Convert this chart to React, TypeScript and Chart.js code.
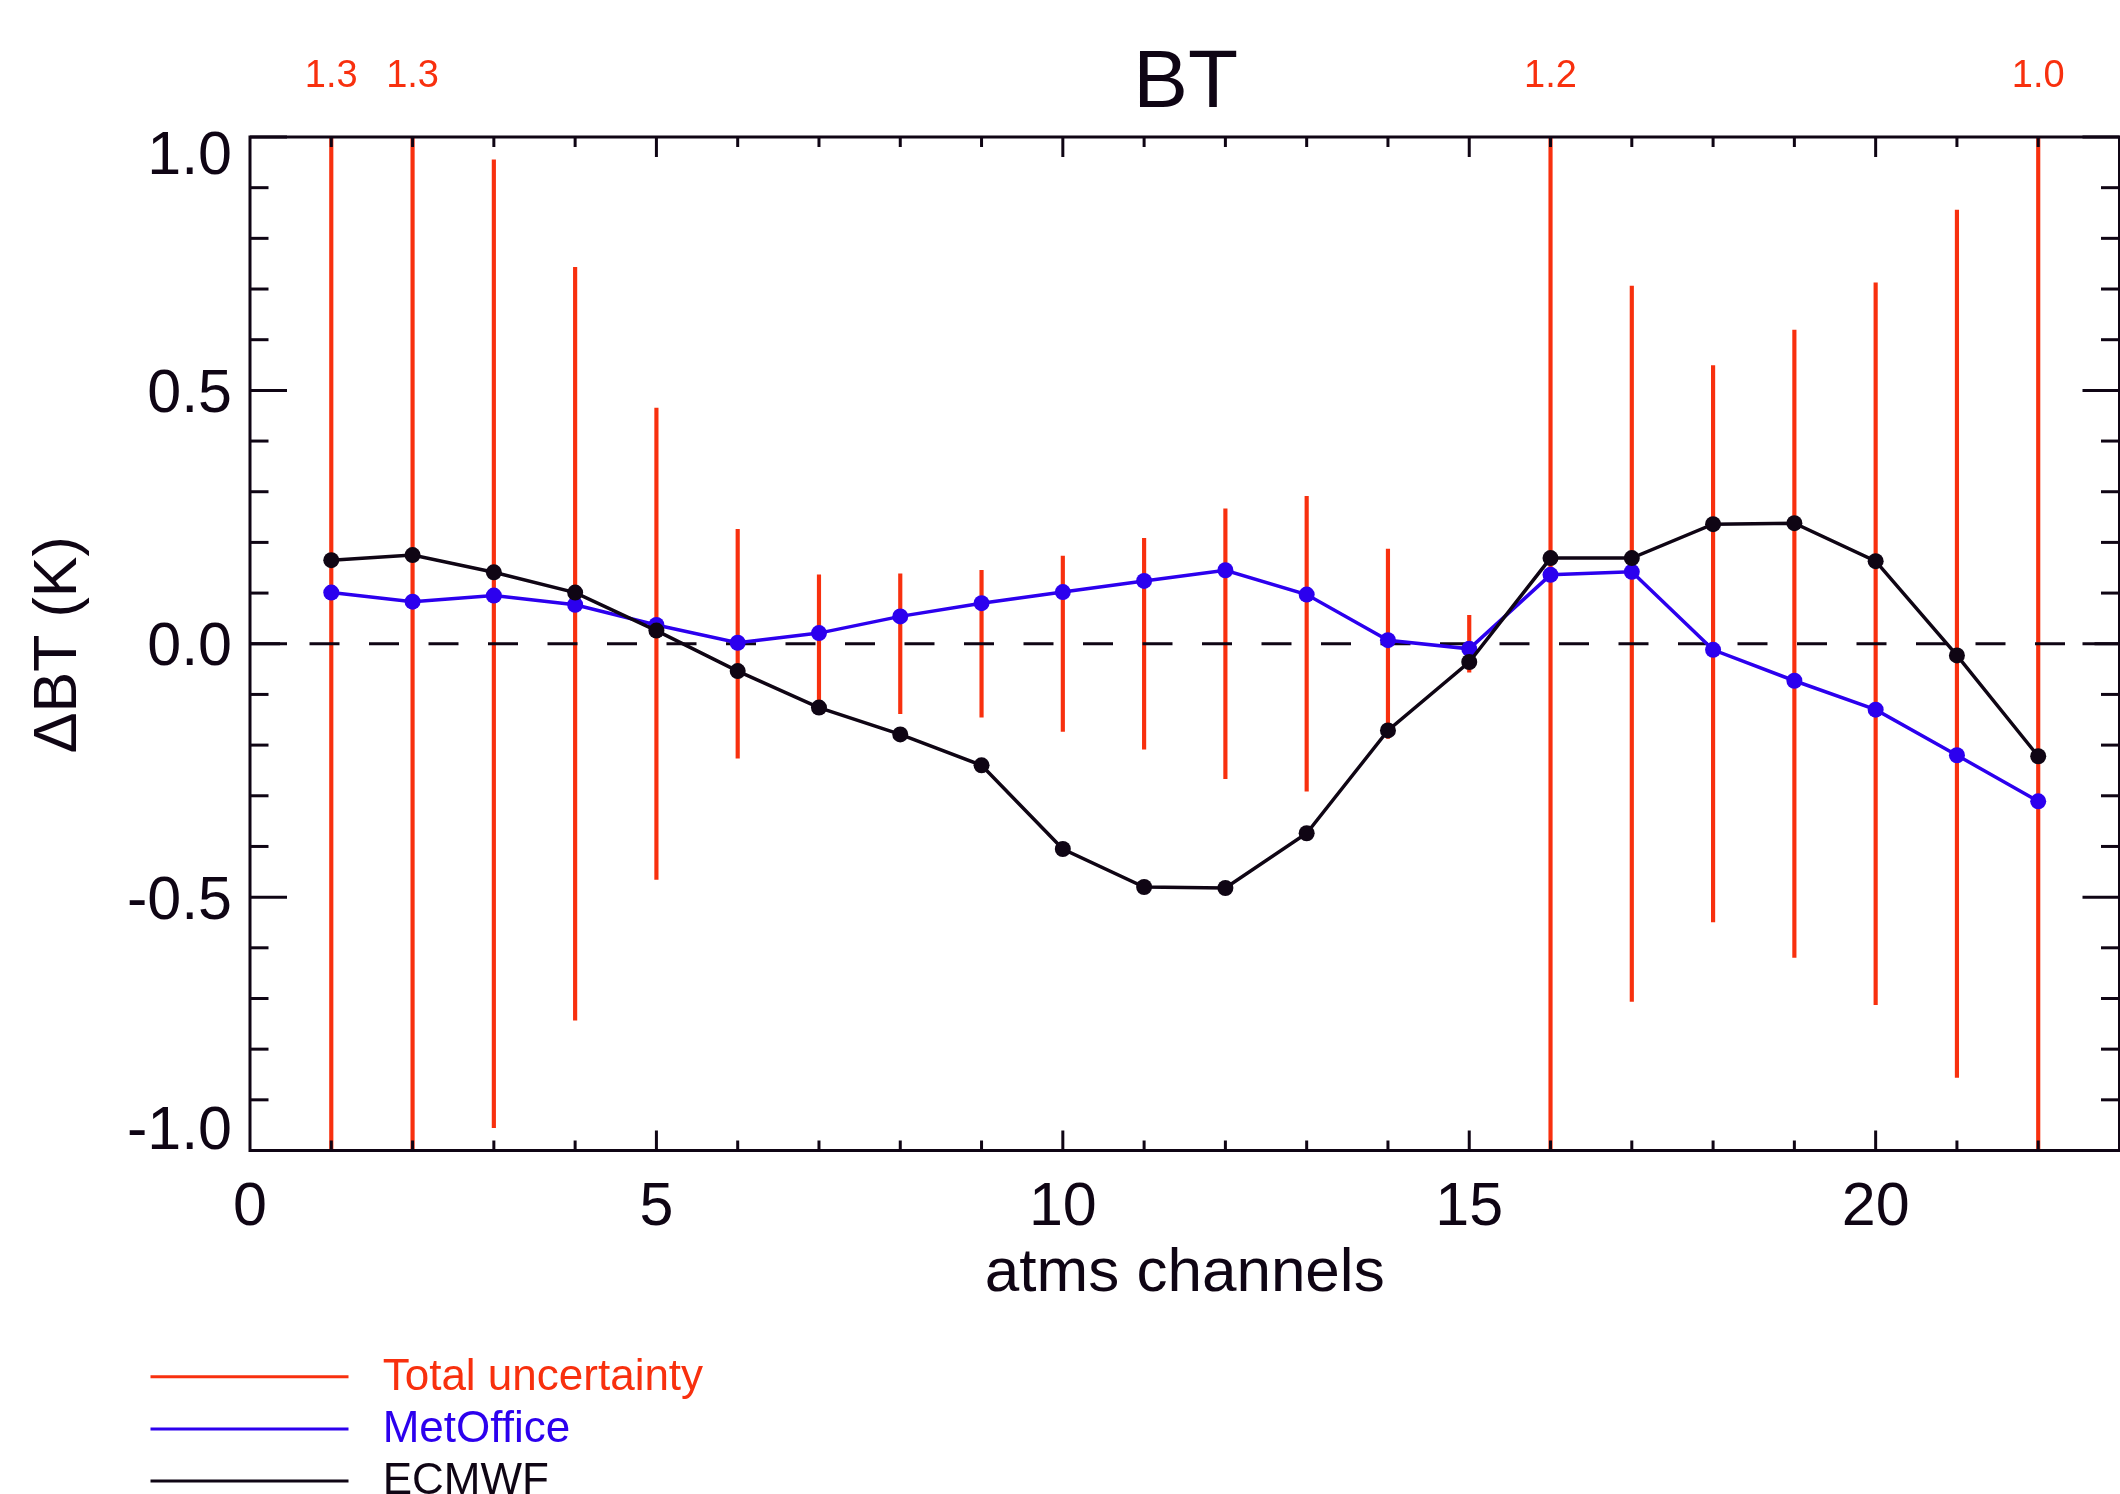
import React, { useEffect, useRef } from "react";
import { Chart, registerables } from "chart.js";

Chart.register(...registerables);

// ---------------- data ----------------
const channels = [1, 2, 3, 4, 5, 6, 7, 8, 9, 10, 11, 12, 13, 14, 15, 16, 17, 18, 19, 20, 21, 22];
const metOffice = [0.101, 0.083, 0.095, 0.077, 0.037, 0.002, 0.021, 0.054, 0.080, 0.102, 0.124, 0.145, 0.097, 0.007, -0.010, 0.136, 0.142, -0.012, -0.073, -0.130, -0.220, -0.311];
const ecmwf = [0.165, 0.175, 0.141, 0.101, 0.026, -0.054, -0.126, -0.179, -0.240, -0.405, -0.480, -0.482, -0.374, -0.171, -0.036, 0.169, 0.169, 0.236, 0.238, 0.163, -0.023, -0.222];
const totalUncertainty = [1.3, 1.3, 0.955, 0.743, 0.465, 0.226, 0.136, 0.138, 0.145, 0.173, 0.208, 0.266, 0.291, 0.187, 0.056, 1.2, 0.706, 0.549, 0.619, 0.712, 0.856, 1.0];
const xTickValues = [0, 5, 10, 15, 20];
const yTickValues = [-1.0, -0.5, 0.0, 0.5, 1.0];
const yTickLabels = ["-1.0", "-0.5", "0.0", "0.5", "1.0"];
const legendLabels = ["Total uncertainty", "MetOffice", "ECMWF"];
const chartTitle = "BT";
const xTitle = "atms channels";
const yTitle = "\u0394BT (K)";

// ---------------- style ----------------
const RED = "#f8300e";
const BLUE = "#2c00ee";
const INK = "#0f0514";
const FONT = "'Liberation Sans', Arial, Helvetica, sans-serif";
const W = 2120;
const H = 1494;

const framePlugin = {
  id: "frame",
  afterDraw(chart: any) {
    const { ctx, chartArea: a, scales } = chart;
    const x = scales.x;
    const y = scales.y;
    ctx.save();
    ctx.strokeStyle = INK;
    ctx.lineWidth = 3;
    ctx.lineCap = "butt";
    ctx.strokeRect(a.left, a.top, a.right - a.left, a.bottom - a.top);

    const seg = (x1: number, y1: number, x2: number, y2: number) => {
      ctx.beginPath();
      ctx.moveTo(x1, y1);
      ctx.lineTo(x2, y2);
      ctx.stroke();
    };
    // x ticks (bottom + top), pointing inward
    for (let v = 1; v <= 22; v++) {
      const px = x.getPixelForValue(v);
      const len = v % 5 === 0 ? 20 : 10;
      seg(px, a.bottom, px, a.bottom - len);
      seg(px, a.top, px, a.top + len);
    }
    // y ticks (left + right), pointing inward
    for (let k = -10; k <= 10; k++) {
      const py = y.getPixelForValue(k / 10);
      const len = k % 5 === 0 ? 37 : 18.5;
      seg(a.left, py, a.left + len, py);
      seg(a.right, py, a.right - len, py);
    }

    // y tick labels
    ctx.fillStyle = INK;
    ctx.font = `61px ${FONT}`;
    ctx.textAlign = "right";
    ctx.textBaseline = "alphabetic";
    yTickValues.forEach((v, i) => {
      let py = y.getPixelForValue(v) + 21.5;
      if (v >= 1) py = a.top + 37;
      if (v <= -1) py = a.bottom - 1.5;
      ctx.fillText(yTickLabels[i], a.left - 18, py);
    });

    // title
    const cx = (a.left + a.right) / 2;
    ctx.textAlign = "center";
    ctx.font = `82px ${FONT}`;
    ctx.fillText(chartTitle, cx + 1, 107);

    // x axis title
    ctx.font = `62px ${FONT}`;
    ctx.fillText(xTitle, cx, 1291);

    // y axis title
    ctx.save();
    ctx.translate(76, (a.top + a.bottom) / 2 + 1);
    ctx.rotate(-Math.PI / 2);
    ctx.textAlign = "center";
    ctx.font = `61px ${FONT}`;
    ctx.fillText(yTitle, 0, 0);
    ctx.restore();

    // red labels for uncertainties beyond the range
    ctx.fillStyle = RED;
    ctx.font = `38px ${FONT}`;
    ctx.textAlign = "center";
    channels.forEach((c, i) => {
      if (totalUncertainty[i] >= 1.0) {
        ctx.fillText(totalUncertainty[i].toFixed(1), x.getPixelForValue(c), 87);
      }
    });

    // legend
    const colors = [RED, BLUE, INK];
    ctx.font = `44px ${FONT}`;
    ctx.textAlign = "left";
    legendLabels.forEach((lab, i) => {
      const base = 1390 + i * 52.2;
      ctx.strokeStyle = colors[i];
      ctx.lineWidth = 3;
      seg(150.5, base - 13.3, 348.5, base - 13.3);
      ctx.fillStyle = colors[i];
      ctx.fillText(lab, 382.7, base);
    });
    ctx.restore();
  },
};

export default function App() {
  const ref = useRef<HTMLCanvasElement | null>(null);

  useEffect(() => {
    document.body.style.margin = "0";
    document.body.style.overflow = "hidden";
    const canvas = ref.current;
    if (!canvas) return;

    const chart = new Chart(canvas, {
      type: "line",
      data: {
        datasets: [
          {
            type: "line",
            label: "ECMWF",
            data: channels.map((c, i) => ({ x: c, y: ecmwf[i] })),
            borderColor: INK,
            backgroundColor: INK,
            borderWidth: 3.5,
            pointRadius: 8,
            pointBorderWidth: 0,
            pointBackgroundColor: INK,
            tension: 0,
            order: 1,
          } as any,
          {
            type: "line",
            label: "MetOffice",
            data: channels.map((c, i) => ({ x: c, y: metOffice[i] })),
            borderColor: BLUE,
            backgroundColor: BLUE,
            borderWidth: 3.5,
            pointRadius: 8,
            pointBorderWidth: 0,
            pointBackgroundColor: BLUE,
            tension: 0,
            order: 2,
          } as any,
          {
            type: "line",
            label: "zero",
            data: [
              { x: 0, y: 0 },
              { x: 23, y: 0 },
            ],
            borderColor: INK,
            borderWidth: 3,
            borderDash: [30, 29.5],
            pointRadius: 0,
            order: 3,
          } as any,
          {
            type: "bar",
            label: "Total uncertainty",
            data: channels.map((c, i) => ({ x: c, y: [-totalUncertainty[i], totalUncertainty[i]] })),
            backgroundColor: RED,
            borderWidth: 0,
            borderSkipped: false,
            barThickness: 3.5,
            grouped: false,
            order: 4,
          } as any,
        ],
      },
      options: {
        animation: false,
        responsive: false,
        devicePixelRatio: 1,
        events: [],
        layout: { padding: { top: 137, right: 0.5, left: 0, bottom: 0 }, autoPadding: false },
        plugins: {
          legend: { display: false },
          title: { display: false },
          tooltip: { enabled: false },
        },
        scales: {
          x: {
            type: "linear",
            position: "bottom",
            min: 0,
            max: 23,
            offset: false,
            grid: { display: false, drawTicks: false, offset: false },
            border: { display: false },
            afterBuildTicks: (s: any) => {
              s.ticks = xTickValues.map((v) => ({ value: v }));
            },
            ticks: {
              autoSkip: false,
              maxRotation: 0,
              minRotation: 0,
              includeBounds: false,
              padding: 27.5,
              color: INK,
              font: { size: 61, family: FONT, lineHeight: 1 },
              callback: (v: any) => String(v),
            },
            afterFit: (s: any) => {
              s.height = H - 1150.5;
            },
          },
          y: {
            type: "linear",
            position: "left",
            min: -1,
            max: 1,
            grid: { display: false, drawTicks: false },
            border: { display: false },
            ticks: { display: false },
            afterFit: (s: any) => {
              s.width = 250;
            },
          },
        },
      } as any,
      plugins: [framePlugin],
    });

    return () => chart.destroy();
  }, []);

  return (
    <div style={{ position: "absolute", left: 0, top: 0, width: W, height: H, background: "#fff" }}>
      <canvas ref={ref} width={W} height={H} style={{ display: "block", width: W, height: H }} />
    </div>
  );
}
